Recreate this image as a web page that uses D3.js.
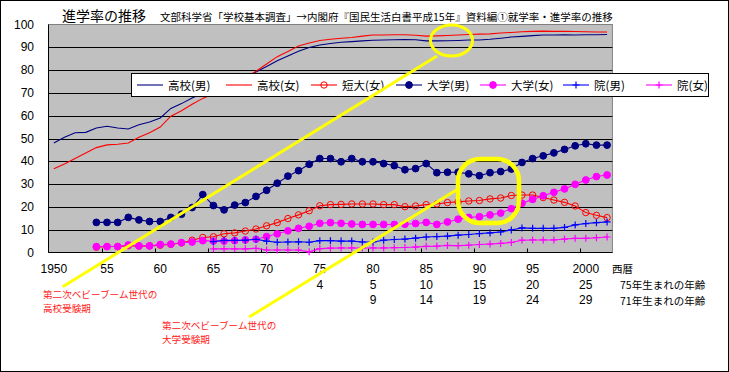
<!DOCTYPE html>
<html><head><meta charset="utf-8">
<script src="https://cdn.jsdelivr.net/npm/d3@7/dist/d3.min.js"></script>
<style>body{margin:0;background:#fff}svg{display:block}text{font-family:"Noto Sans CJK JP",sans-serif}.num{font-family:"Liberation Sans",Arial,sans-serif}</style>
</head><body><svg id="c" width="729" height="372"></svg>
<script>
const years=[1950,1951,1952,1953,1954,1955,1956,1957,1958,1959,1960,1961,1962,1963,1964,1965,1966,1967,1968,1969,1970,1971,1972,1973,1974,1975,1976,1977,1978,1979,1980,1981,1982,1983,1984,1985,1986,1987,1988,1989,1990,1991,1992,1993,1994,1995,1996,1997,1998,1999,2000,2001,2002];
const koukouM=[48.0,50.5,52.5,52.7,54.6,55.4,54.6,54.2,56.0,57.2,59.0,63.2,65.3,67.8,70.0,71.7,73.5,75.3,77.0,79.2,81.6,84.1,86.2,88.3,89.9,91.0,91.7,92.2,92.5,92.8,93.1,93.2,93.3,93.4,93.3,92.8,92.8,92.9,93.0,93.2,93.2,93.5,94.0,94.5,94.8,95.1,95.4,95.4,95.5,95.4,95.5,95.5,95.6];
const koukouF=[36.7,38.8,41.2,43.6,46.0,47.2,47.5,48.0,50.5,52.5,55.0,59.8,62.2,65.0,67.6,69.6,71.2,73.7,76.5,79.5,82.7,85.9,88.2,90.6,91.9,93.0,93.5,94.0,94.3,94.9,95.4,95.4,95.5,95.5,95.3,94.9,95.0,95.2,95.4,95.6,95.8,95.9,96.3,96.5,96.8,97.0,97.1,97.0,97.0,96.9,96.8,96.7,96.7];
const tandaiF=[null,null,null,null,2.3,2.6,2.6,3.0,2.8,2.9,3.2,3.6,4.2,5.4,6.6,6.9,8.2,8.6,9.4,10.3,11.7,13.1,14.9,16.5,18.3,20.5,21.0,21.1,21.3,21.3,21.3,21.0,21.0,20.1,20.4,21.0,21.3,21.9,22.2,22.6,22.8,23.5,23.9,25.0,25.2,25.2,24.1,23.0,22.0,20.4,17.5,16.3,15.3];
const daigakuM=[null,null,null,null,13.2,13.2,13.2,15.4,14.3,13.6,13.6,15.4,16.8,19.7,25.4,20.6,18.7,20.8,21.9,24.6,27.3,30.4,33.5,35.9,38.7,41.2,41.2,39.8,41.2,39.8,39.8,39.0,38.1,36.3,36.8,39.0,35.0,35.2,35.2,34.5,33.7,35.0,35.5,36.6,39.5,41.2,42.4,43.7,45.2,46.8,47.7,47.1,47.1];
const daigakuF=[null,null,null,null,2.6,2.6,2.6,3.3,2.9,2.9,3.5,3.7,4.3,4.6,5.2,5.0,5.0,5.2,5.5,5.8,7.0,8.2,9.5,10.6,11.5,12.8,13.1,12.8,12.5,12.3,12.3,12.3,12.3,12.4,12.7,13.2,12.3,13.4,14.6,15.4,15.7,16.5,17.3,19.2,21.6,23.3,24.9,26.4,27.9,29.9,31.8,33.3,34.0];
const inM=[null,null,null,null,null,null,null,null,null,null,null,null,null,null,null,4.8,5.3,5.3,5.4,5.8,5.0,4.5,4.6,4.7,4.5,5.2,5.2,5.0,5.0,4.6,4.6,5.4,5.7,5.9,6.3,6.8,7.0,7.2,7.6,7.9,8.3,8.6,9.0,9.9,10.8,10.6,10.6,10.6,11.0,12.1,12.7,13.1,13.4];
const inF=[null,null,null,null,null,null,null,null,null,null,null,null,null,null,null,1.6,1.6,1.6,1.6,1.8,1.1,1.1,1.1,1.1,0.3,1.7,1.9,2.0,2.0,2.0,2.0,2.0,2.1,2.2,2.4,2.7,2.8,3.1,3.0,3.2,3.5,3.7,4.0,4.4,5.4,5.5,5.5,5.5,5.9,6.2,6.2,6.5,6.8];
const seriesNames=["高校(男)","高校(女)","短大(女)","大学(男)","大学(女)","院(男)","院(女)"];
const yTicks=[0,10,20,30,40,50,60,70,80,90,100];
const xLabelYears=[1950,1955,1960,1965,1970,1975,1980,1985,1990,1995,2000];
const xLabels=["1950","55","60","65","70","75","80","85","90","95","2000"];
const age75Years=[1975,1980,1985,1990,1995,2000];
const age75=["4","5","10","15","20","25"];
const age71Years=[1980,1985,1990,1995,2000];
const age71=["9","14","19","24","29"];
const titleText="進学率の推移";
const subtitleText="文部科学省「学校基本調査」→内閣府『国民生活白書平成15年』資料編①就学率・進学率の推移";

const series=[
 {name:seriesNames[0],values:koukouM,color:"#000080",marker:"none"},
 {name:seriesNames[1],values:koukouF,color:"#FF0000",marker:"none"},
 {name:seriesNames[2],values:tandaiF,color:"#FF0000",marker:"open"},
 {name:seriesNames[3],values:daigakuM,color:"#000080",marker:"dot"},
 {name:seriesNames[4],values:daigakuF,color:"#FF00FF",marker:"dot"},
 {name:seriesNames[5],values:inM,color:"#0000FF",marker:"plus"},
 {name:seriesNames[6],values:inF,color:"#FF00FF",marker:"plus"}
];

const svg=d3.select("#c");
svg.append("rect").attr("x",0.5).attr("y",0.5).attr("width",728).attr("height",371).attr("fill","#fff").attr("stroke","#000");

const L=48.5,R=612.4,T=24.5,B=252.5;
const x=d3.scaleBand().domain(years).range([L,R]);
const cx=yr=>x(yr)+x.bandwidth()/2;
const y=d3.scaleLinear().domain([0,100]).range([B,T]);

svg.append("rect").attr("x",L).attr("y",T).attr("width",R-L).attr("height",B-T).attr("fill","#C0C0C0").attr("stroke","#808080");
svg.append("g").selectAll("line").data(yTicks.filter(d=>d>0&&d<100)).join("line")
 .attr("x1",L).attr("x2",R).attr("y1",d=>Math.round(y(d))+0.5).attr("y2",d=>Math.round(y(d))+0.5).attr("stroke","#000");
svg.append("line").attr("x1",L).attr("x2",L).attr("y1",T).attr("y2",B).attr("stroke","#000");
svg.append("line").attr("x1",L).attr("x2",R).attr("y1",B).attr("y2",B).attr("stroke","#000");
svg.append("g").selectAll("line").data(xLabelYears.slice(1)).join("line")
 .attr("x1",d=>Math.round(x(d))+0.5).attr("x2",d=>Math.round(x(d))+0.5).attr("y1",B-4).attr("y2",B).attr("stroke","#000");
svg.append("g").selectAll("text").data(yTicks).join("text").attr("class","num")
 .attr("x",34).attr("y",d=>y(d)).attr("text-anchor","end").attr("dominant-baseline","central").attr("font-size",12).text(d=>d);

const line=d3.line().defined(d=>d.v!=null).x(d=>cx(d.yr)).y(d=>y(d.v));
function drawMarker(g,type,color,px,py){
 if(type==="dot") g.append("circle").attr("cx",px).attr("cy",py).attr("r",3.4).attr("fill",color).attr("stroke",color);
 else if(type==="open") g.append("circle").attr("cx",px).attr("cy",py).attr("r",3.2).attr("fill","none").attr("stroke",color);
 else if(type==="plus") g.append("path").attr("d",`M${px-3.5},${py}H${px+3.5}M${px},${py-3.5}V${py+3.5}`).attr("stroke",color).attr("stroke-width",1.2);
}
series.forEach(s=>{
 const pts=years.map((yr,i)=>({yr,v:s.values[i]}));
 const g=svg.append("g");
 g.append("path").attr("d",line(pts)).attr("fill","none").attr("stroke",s.color).attr("stroke-width",1.1);
 if(s.marker!=="none") pts.filter(p=>p.v!=null).forEach(p=>drawMarker(g,s.marker,s.color,cx(p.yr),y(p.v)));
});

// legend
const lg=svg.append("g");
lg.append("rect").attr("x",131.5).attr("y",73.5).attr("width",577).attr("height",23).attr("fill","#fff").attr("stroke","#000");
const legX=[137,226,311,396,480,563,646];
series.forEach((s,i)=>{
 const x0=legX[i],ly=85;
 lg.append("line").attr("x1",x0).attr("x2",x0+26).attr("y1",ly).attr("y2",ly).attr("stroke",s.color).attr("stroke-width",1.1);
 if(s.marker!=="none") drawMarker(lg,s.marker,s.color,x0+13,ly);
 lg.append("text").attr("x",x0+31).attr("y",ly).attr("dominant-baseline","central").attr("font-size",11.5).text(s.name);
});

// titles
svg.append("text").attr("x",62).attr("y",15).attr("dominant-baseline","central").attr("font-size",14).text(titleText);
svg.append("text").attr("x",160).attr("y",16).attr("dominant-baseline","central").attr("font-size",10.5).text(subtitleText);

// x label rows
svg.append("g").selectAll("text").data(xLabelYears).join("text").attr("class","num")
 .attr("x",d=>cx(d)).attr("y",269).attr("text-anchor","middle").attr("dominant-baseline","central").attr("font-size",12).text((d,i)=>xLabels[i]);
svg.append("g").selectAll("text").data(age75Years).join("text").attr("class","num")
 .attr("x",d=>cx(d)).attr("y",285).attr("text-anchor","middle").attr("dominant-baseline","central").attr("font-size",12).text((d,i)=>age75[i]);
svg.append("g").selectAll("text").data(age71Years).join("text").attr("class","num")
 .attr("x",d=>cx(d)).attr("y",300).attr("text-anchor","middle").attr("dominant-baseline","central").attr("font-size",12).text((d,i)=>age71[i]);
svg.append("text").attr("x",612).attr("y",268.5).attr("dominant-baseline","central").attr("font-size",10.5).text("西暦");
svg.append("text").attr("x",620).attr("y",284.5).attr("dominant-baseline","central").attr("font-size",10.5).text("75年生まれの年齢");
svg.append("text").attr("x",620).attr("y",300).attr("dominant-baseline","central").attr("font-size",10.5).text("71年生まれの年齢");

// annotations
const ann=svg.append("g").attr("fill","#FF2020").attr("font-size",9.6);
ann.append("text").attr("x",43).attr("y",294).attr("dominant-baseline","central").text("第二次ベビーブーム世代の");
ann.append("text").attr("x",43).attr("y",308).attr("dominant-baseline","central").text("高校受験期");
ann.append("text").attr("x",162).attr("y",324.5).attr("dominant-baseline","central").text("第二次ベビーブーム世代の");
ann.append("text").attr("x",162).attr("y",338.5).attr("dominant-baseline","central").text("大学受験期");

const yl=svg.append("g").attr("stroke","#FFFF00").attr("fill","none");
yl.append("line").attr("x1",62.7).attr("y1",286.7).attr("x2",437).attr("y2",56).attr("stroke-width",3);
yl.append("line").attr("x1",249).attr("y1",317).attr("x2",458).attr("y2",189).attr("stroke-width",3);
yl.append("ellipse").attr("cx",451.5).attr("cy",40.5).attr("rx",21).attr("ry",15.5).attr("stroke-width",3);
yl.append("rect").attr("x",458).attr("y",159).attr("width",61).attr("height",64).attr("rx",22).attr("stroke-width",4.5);
</script></body></html>
